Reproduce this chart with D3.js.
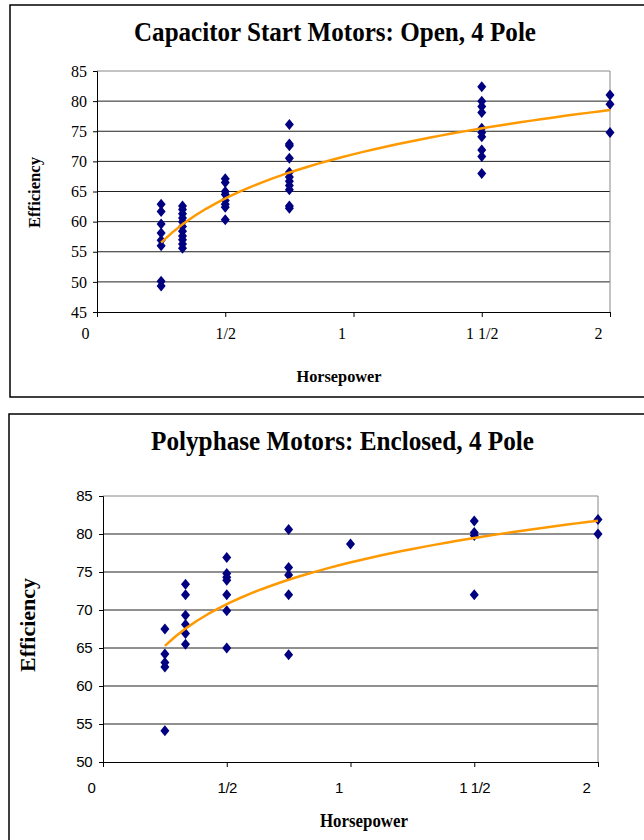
<!DOCTYPE html>
<html>
<head>
<meta charset="utf-8">
<script src="https://cdn.jsdelivr.net/npm/d3@7"></script>
<style>
  body { margin: 0; background: #fff; }
  svg { display: block; }
</style>
</head>
<body>
<div id="chart"></div>
<script>
// horsepower columns and efficiency readings, one inner list per column
const hpTicks = [0, 0.5, 1, 1.5, 2];
const hpLabels = ["0", "1/2", "1", "1 1/2", "2"];

const capHp = [0.25, 1 / 3, 0.5, 0.75, 1.5, 2];
const capEff = [
  [62.9, 61.7, 59.6, 58.1, 56.9, 56.0, 50.1, 49.3],
  [62.6, 62.0, 61.3, 60.6, 60.0, 59.2, 58.4, 57.6, 57.0, 56.3, 55.6],
  [67.1, 66.5, 65.0, 64.5, 63.5, 62.9, 62.4, 60.3],
  [76.1, 72.9, 72.6, 70.5, 68.2, 67.4, 66.7, 66.0, 65.3, 62.6, 62.2],
  [82.4, 80.0, 79.1, 78.1, 75.5, 74.8, 74.1, 71.9, 70.8, 68.0],
  [81.0, 79.5, 74.8]
];
const capTicks = [45, 50, 55, 60, 65, 70, 75, 80, 85];

const polyHp = [0.25, 1 / 3, 0.5, 0.75, 1, 1.5, 2];
const polyEff = [
  [67.5, 64.2, 63.1, 62.5, 54.1],
  [73.4, 72.0, 69.3, 68.1, 66.9, 65.5],
  [76.9, 74.8, 74.3, 73.9, 72.0, 69.9, 65.0],
  [80.6, 75.6, 74.6, 72.0, 64.1],
  [78.7],
  [81.7, 80.2, 79.8, 72.0],
  [81.9, 80.0]
];
const polyTicks = [50, 55, 60, 65, 70, 75, 80, 85];

const W = 644, H = 840;
const svg = d3.select("#chart").append("svg")
  .attr("width", W)
  .attr("height", H);

// logarithmic least squares trend, like the spreadsheet trendline
function logFit(pts) {
  const lx = pts.map((p) => Math.log(p.hp));
  const mx = d3.mean(lx), my = d3.mean(pts, (p) => p.eff);
  let sxy = 0, sxx = 0;
  pts.forEach((p, i) => {
    sxy += (lx[i] - mx) * (p.eff - my);
    sxx += (lx[i] - mx) * (lx[i] - mx);
  });
  const b = sxy / sxx;
  const a = my - b * mx;
  return (x) => a + b * Math.log(x);
}

function diamond(hw, hh) {
  return `M0,${-hh}L${hw},0L0,${hh}L${-hw},0Z`;
}

function drawPanel(cfg) {
  const g = svg.append("g");

  g.append("rect")
    .attr("x", cfg.frame[0])
    .attr("y", cfg.frame[1])
    .attr("width", cfg.frame[2])
    .attr("height", cfg.frame[3])
    .style("fill", "none")
    .style("stroke", "#000")
    .style("stroke-width", 1.5);

  g.append("text")
    .attr("x", cfg.title.x)
    .attr("y", cfg.title.y)
    .attr("text-anchor", "middle")
    .attr("textLength", cfg.title.len)
    .attr("lengthAdjust", "spacingAndGlyphs")
    .style("font-family", "'Liberation Serif', 'Times New Roman', serif")
    .style("font-weight", "bold")
    .style("font-size", cfg.title.size + "px")
    .text(cfg.title.text);

  const x = d3.scaleLinear().domain([0, 2]).range([cfg.left, cfg.right]);
  const y = d3.scaleLinear().domain(d3.extent(cfg.yTicks)).range([cfg.bottom, cfg.top]);

  // gridlines
  g.selectAll(".grid")
    .data(cfg.yTicks.slice(1))
    .enter().append("line")
    .attr("x1", cfg.left)
    .attr("x2", cfg.right)
    .attr("y1", (d) => y(d))
    .attr("y2", (d) => y(d))
    .style("stroke", (d, i) => i === cfg.yTicks.length - 2 ? "#888" : "#222")
    .style("stroke-width", 1);

  // right edge of plot area
  g.append("line")
    .attr("x1", cfg.right).attr("x2", cfg.right)
    .attr("y1", cfg.top).attr("y2", cfg.bottom)
    .style("stroke", "#888");

  const yAxis = g.append("g")
    .attr("transform", `translate(${cfg.left},0)`)
    .attr("font-size", null)
    .call(d3.axisLeft(y).tickValues(cfg.yTicks).tickSize(4).tickPadding(cfg.yPad).tickFormat(d3.format("d")));
  yAxis.select(".domain").style("stroke", "#000");
  yAxis.selectAll("text")
    .style("font-family", cfg.tickFont)
    .style("font-size", cfg.tickSize + "px")
    .style("letter-spacing", cfg.tickSpacing)
    .attr("fill", "#000");

  const xAxis = g.append("g")
    .attr("transform", `translate(0,${cfg.bottom})`)
    .call(d3.axisBottom(x).tickValues(hpTicks).tickSizeOuter(0).tickSize(5)
      .tickFormat((d, i) => hpLabels[i]));
  xAxis.select(".domain").style("stroke", "#000");
  xAxis.selectAll("text")
    .attr("y", cfg.xLabelDy)
    .attr("dy", 0)
    .attr("dx", (d) => Number.isInteger(d) ? -12 : 0)
    .style("font-family", cfg.tickFont)
    .style("font-size", cfg.tickSize + "px")
    .style("letter-spacing", cfg.tickSpacing)
    .attr("fill", "#000");

  g.append("text")
    .attr("x", cfg.xTitle.x)
    .attr("y", cfg.xTitle.y)
    .attr("text-anchor", "middle")
    .attr("textLength", cfg.xTitle.len)
    .attr("lengthAdjust", "spacingAndGlyphs")
    .style("font-family", "'Liberation Serif', 'Times New Roman', serif")
    .style("font-weight", "bold")
    .style("font-size", cfg.xTitle.size + "px")
    .text("Horsepower");

  g.append("text")
    .attr("transform", `translate(${cfg.yTitle.x},${cfg.yTitle.y}) rotate(-90)`)
    .attr("text-anchor", "middle")
    .attr("textLength", cfg.yTitle.len)
    .attr("lengthAdjust", "spacingAndGlyphs")
    .style("font-family", "'Liberation Serif', 'Times New Roman', serif")
    .style("font-weight", "bold")
    .style("font-size", cfg.yTitle.size + "px")
    .text("Efficiency");

  const pts = [];
  cfg.hp.forEach((h, i) => cfg.eff[i].forEach((e) => pts.push({ hp: h, eff: e })));

  g.selectAll(".pt")
    .data(pts)
    .enter().append("path")
    .attr("class", "pt")
    .attr("d", diamond(4.5, 5.5))
    .attr("transform", (d) => `translate(${x(d.hp)},${y(d.eff)})`)
    .style("fill", "#000080");

  const fit = logFit(pts);
  const lo = d3.min(cfg.hp), hi = d3.max(cfg.hp);
  const samples = d3.range(0, 41).map((k) => lo + (hi - lo) * k / 40);
  const line = d3.line()
    .x((d) => x(d))
    .y((d) => y(fit(d)));

  g.append("path")
    .datum(samples)
    .attr("d", line)
    .style("fill", "none")
    .style("stroke", "#FF9900")
    .style("stroke-width", 2.5)
    .style("stroke-linejoin", "round");
}

drawPanel({
  frame: [10, 5, 650, 392],
  left: 97, right: 610, top: 71, bottom: 312,
  yTicks: capTicks, yPad: 6, xLabelDy: 27,
  hp: capHp, eff: capEff,
  tickFont: "'Liberation Serif', 'Times New Roman', serif",
  tickSize: 16, tickSpacing: "0px",
  title: { text: "Capacitor Start Motors: Open, 4 Pole", x: 335, y: 41, size: 27, len: 402 },
  xTitle: { x: 339, y: 382, size: 16, len: 85 },
  yTitle: { x: 40, y: 192.5, size: 16, len: 71 }
});

drawPanel({
  frame: [9, 414, 650, 440],
  left: 103, right: 598, top: 496, bottom: 762,
  yTicks: polyTicks, yPad: 7, xLabelDy: 31,
  hp: polyHp, eff: polyEff,
  tickFont: "'Liberation Sans', Arial, sans-serif",
  tickSize: 15, tickSpacing: "-0.5px",
  title: { text: "Polyphase Motors: Enclosed, 4 Pole", x: 342.5, y: 450, size: 28, len: 383 },
  xTitle: { x: 364, y: 827, size: 19, len: 88 },
  yTitle: { x: 35, y: 625, size: 20, len: 94 }
});
</script>
</body>
</html>
